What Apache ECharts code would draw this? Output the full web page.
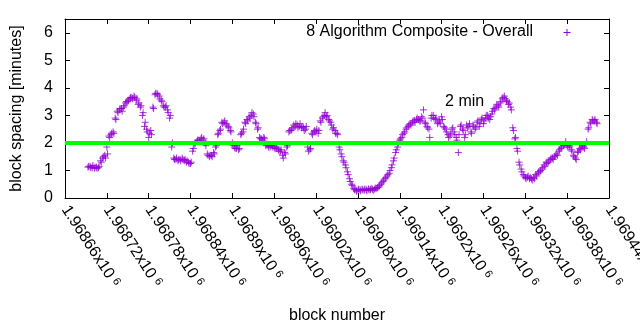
<!DOCTYPE html>
<html>
<head>
<meta charset="utf-8">
<script src="https://cdn.jsdelivr.net/npm/echarts@6/dist/echarts.min.js"></script>
<style>
  html, body { margin: 0; padding: 0; background: #fff; }
  #chart { width: 640px; height: 330px; }
</style>
</head>
<body>
<div id="chart"></div>
<script>
// Moving-average block spacing, sampled every third block (two interleaved runs).
const firstBlock = 1968693;
const blockStep = 3;
const spacingMinutes = [
  1.12, 1.15, 1.10, 1.08, 1.12, 1.10, 1.35, 1.45, 1.55, 1.85,
  2.25, 2.30, 2.40, 2.90, 3.15, 3.20, 3.25, 3.30, 3.45, 3.50,
  3.60, 3.65, 3.70, 3.55, 3.40, 3.30, 3.00, 2.60, 2.50, 2.20,
  2.45, 3.30, 3.75, 3.80, 3.70, 3.55, 3.35, 3.30, 3.20, 2.90,
  1.85, 1.45, 1.40, 1.35, 1.40, 1.45, 1.35, 1.30, 1.30, 1.25,
  1.70, 1.95, 2.05, 2.10, 2.15, 2.10, 2.00, 1.60, 1.50, 1.55,
  1.65, 1.85, 2.30, 2.45, 2.75, 2.75, 2.70, 2.60, 2.45, 2.00,
  1.85, 1.80, 1.75, 2.30, 2.40, 2.75, 2.85, 2.95, 3.00, 3.05,
  2.75, 2.50, 2.20, 2.15, 2.20, 1.90, 1.90, 1.85, 1.90, 1.85,
  1.80, 1.75, 1.70, 1.55, 1.65, 1.85, 2.40, 2.45, 2.55, 2.60,
  2.65, 2.60, 2.55, 2.55, 2.50, 1.85, 1.75, 2.35, 2.40, 2.40,
  2.35, 2.80, 2.90, 3.00, 2.95, 2.85, 2.75, 2.50, 2.45, 2.35,
  1.85, 1.60, 1.35, 1.20, 0.95, 0.70, 0.50, 0.35, 0.30, 0.28,
  0.30, 0.32, 0.28, 0.30, 0.33, 0.30, 0.32, 0.32, 0.35, 0.40,
  0.50, 0.60, 0.70, 0.80, 0.90, 1.10, 1.35, 1.65, 1.85, 2.10,
  2.20, 2.35, 2.50, 2.60, 2.70, 2.75, 2.80, 2.85, 2.85, 2.80,
  2.90, 2.75, 2.60, 2.50, 2.90, 3.00, 2.85, 2.70, 2.80, 2.95,
  2.60, 2.50, 2.30, 2.25, 2.50, 2.40, 2.20, 1.65, 2.60, 2.50,
  2.20, 2.65, 2.60, 2.40, 2.65, 2.50, 2.75, 2.60, 2.85, 2.70,
  2.90, 3.00, 2.85, 3.05, 3.25, 3.30, 3.35, 3.45, 3.60, 3.70,
  3.55, 3.40, 3.30, 2.55, 2.15, 1.80, 1.30, 1.05, 0.85, 0.75,
  0.75, 0.70, 0.70, 0.75, 0.85, 0.90, 0.95, 1.05, 1.20, 1.30,
  1.30, 1.40, 1.45, 1.50, 1.60, 1.70, 1.80, 1.95, 1.95, 1.90,
  1.90, 1.75, 1.55, 1.45, 1.65, 1.80, 1.85, 1.85, 1.95, 2.50,
  2.75, 2.85, 2.80, 2.75
];
// Second run, one block after each sample of the first.
const offsetBlocks = 1;
const spacingMinutesNext = [
  1.15, 1.10, 1.18, 1.12, 1.08, 1.15, 1.30, 1.50, 1.45, 1.60,
  2.20, 2.35, 2.35, 2.85, 3.10, 3.25, 3.15, 3.35, 3.50, 3.55,
  3.65, 3.60, 3.65, 3.60, 3.45, 3.35, 3.10, 2.75, 2.40, 2.35,
  2.30, 3.25, 3.80, 3.75, 3.60, 3.50, 3.30, 3.35, 3.10, 3.00,
  2.00, 1.40, 1.45, 1.40, 1.35, 1.40, 1.40, 1.35, 1.25, 1.30,
  1.80, 2.00, 2.10, 2.05, 2.20, 2.15, 1.90, 1.55, 1.55, 1.50,
  1.60, 1.90, 2.35, 2.50, 2.70, 2.80, 2.65, 2.55, 2.40, 1.90,
  1.80, 1.90, 1.80, 2.35, 2.50, 2.70, 2.80, 2.90, 3.10, 2.95,
  2.70, 2.55, 2.15, 2.10, 2.15, 1.95, 1.85, 1.90, 1.85, 1.80,
  1.85, 1.70, 1.75, 1.45, 1.60, 1.90, 2.45, 2.50, 2.65, 2.70,
  2.55, 2.70, 2.60, 2.45, 2.60, 1.70, 1.80, 2.30, 2.45, 2.50,
  2.45, 2.75, 2.95, 3.10, 3.00, 2.80, 2.65, 2.55, 2.35, 2.30,
  1.75, 1.50, 1.30, 1.10, 0.85, 0.60, 0.45, 0.30, 0.25, 0.32,
  0.26, 0.30, 0.33, 0.27, 0.30, 0.35, 0.28, 0.36, 0.38, 0.45,
  0.55, 0.65, 0.75, 0.85, 1.00, 1.20, 1.45, 1.75, 2.00, 2.15,
  2.30, 2.40, 2.55, 2.65, 2.65, 2.80, 2.75, 2.90, 2.80, 2.95,
  3.20, 2.70, 2.55, 2.20, 3.00, 2.90, 2.90, 2.75, 2.70, 2.85,
  2.55, 2.40, 2.20, 2.35, 2.55, 2.30, 2.10, 2.30, 2.65, 2.45,
  2.30, 2.55, 2.70, 2.35, 2.60, 2.55, 2.80, 2.70, 2.90, 2.80,
  3.00, 2.90, 2.95, 3.15, 3.20, 3.40, 3.30, 3.50, 3.65, 3.60,
  3.50, 3.45, 3.20, 2.45, 2.20, 1.70, 1.20, 0.95, 0.80, 0.70,
  0.80, 0.75, 0.65, 0.70, 0.80, 0.95, 1.00, 1.10, 1.15, 1.25,
  1.35, 1.45, 1.40, 1.55, 1.55, 1.75, 1.85, 1.90, 2.05, 1.85,
  1.85, 1.70, 1.50, 1.40, 1.70, 1.75, 1.90, 1.80, 2.05, 2.55,
  2.70, 2.80, 2.85, 2.70
];

// Reference level and its caption.
const targetMinutes = 2;
const targetCaption = '2 min';
const captionAt = [1969233, 3.5];

// Axis ranges and ticks.
const blockMin = 1968660;
const blockMax = 1969440;
const blockTickStep = 60;
const yTickValues = [0, 1, 2, 3, 4, 5, 6];
const yMax = 6.5;

const seriesName = '8 Algorithm Composite - Overall';
const xName = 'block number';
const yName = 'block spacing [minutes]';

const purple = '#9400d3';
const green = '#00ff00';
const font = '"Liberation Sans", Arial, sans-serif';
const fs = 16;

const points = spacingMinutes.map((v, i) => [firstBlock + i * blockStep, v])
  .concat(spacingMinutesNext.map((v, i) => [firstBlock + offsetBlocks + i * blockStep, v]));

function blockLabel(v) {
  const m = parseFloat((v / 1e6).toFixed(5));
  return '{m|' + m + 'x10}{e|6}';
}

const chart = echarts.init(document.getElementById('chart'), null, { renderer: 'canvas' });

const tickCommon = { show: true, inside: true, length: 5, lineStyle: { color: '#000', width: 1 } };
const lineCommon = { show: true, onZero: false, lineStyle: { color: '#000', width: 1 } };

chart.setOption({
  animation: false,
  backgroundColor: '#fff',
  textStyle: { fontFamily: font },
  grid: { left: 65, right: 31, top: 19, bottom: 132, containLabel: false, outerBoundsMode: 'none' },
  xAxis: [
    {
      type: 'value', position: 'bottom',
      min: blockMin, max: blockMax, interval: blockTickStep,
      axisLine: lineCommon, axisTick: tickCommon, splitLine: { show: false },
      axisLabel: {
        rotate: -57, margin: 9, color: '#000', fontFamily: font,
        hideOverlap: false,
        formatter: blockLabel,
        rich: {
          m: { fontSize: fs, color: '#000', fontFamily: font },
          e: { fontSize: 11, color: '#000', fontFamily: font, verticalAlign: 'top', padding: [0, 0, 0, 4] }
        }
      },
      name: xName, nameLocation: 'middle', nameGap: 110,
      nameTextStyle: { fontSize: fs, color: '#000', fontFamily: font }
    },
    {
      type: 'value', position: 'top',
      min: blockMin, max: blockMax, interval: blockTickStep,
      axisLine: lineCommon, axisTick: tickCommon, splitLine: { show: false },
      axisLabel: { show: false }
    }
  ],
  yAxis: [
    {
      type: 'value', position: 'left',
      min: 0, max: yMax, interval: 1,
      axisLine: lineCommon, axisTick: tickCommon, splitLine: { show: false },
      axisLabel: {
        margin: 12, color: '#000', fontSize: fs, fontFamily: font,
        showMaxLabel: false,
        formatter: v => (yTickValues.includes(v) ? String(v) : '')
      },
      name: yName, nameLocation: 'middle', nameGap: 40, nameRotate: 90,
      nameTextStyle: { fontSize: fs, color: '#000', fontFamily: font }
    },
    {
      type: 'value', position: 'right',
      min: 0, max: yMax, interval: 1,
      axisLine: lineCommon, axisTick: tickCommon, splitLine: { show: false },
      axisLabel: { show: false }
    }
  ],
  series: [
    {
      name: seriesName,
      type: 'scatter',
      xAxisIndex: 0, yAxisIndex: 0,
      symbol: 'path://M0,5L10,5M5,0L5,10',
      symbolSize: 7,
      itemStyle: { color: 'rgba(0,0,0,0)', borderColor: purple, borderWidth: 1 },
      data: points,
      z: 3,
      markLine: {
        silent: true, symbol: 'none',
        lineStyle: { color: green, width: 4, type: 'solid' },
        label: { show: false },
        data: [{ yAxis: targetMinutes }]
      },
      markPoint: {
        silent: true, symbol: 'circle', symbolSize: 0,
        label: {
          show: true, position: 'inside', color: '#000', fontSize: fs, fontFamily: font,
          formatter: targetCaption
        },
        data: [{ coord: captionAt }]
      }
    }
  ],
  graphic: [
    {
      type: 'text',
      style: {
        text: seriesName, x: 533, y: 32, align: 'right', verticalAlign: 'middle',
        fill: '#000', fontSize: fs, fontFamily: font
      }
    },
    { type: 'line', shape: { x1: 563.5, y1: 32.5, x2: 570.5, y2: 32.5 }, style: { stroke: purple, lineWidth: 1 } },
    { type: 'line', shape: { x1: 567, y1: 29, x2: 567, y2: 36 }, style: { stroke: purple, lineWidth: 1 } }
  ]
});
</script>
</body>
</html>
